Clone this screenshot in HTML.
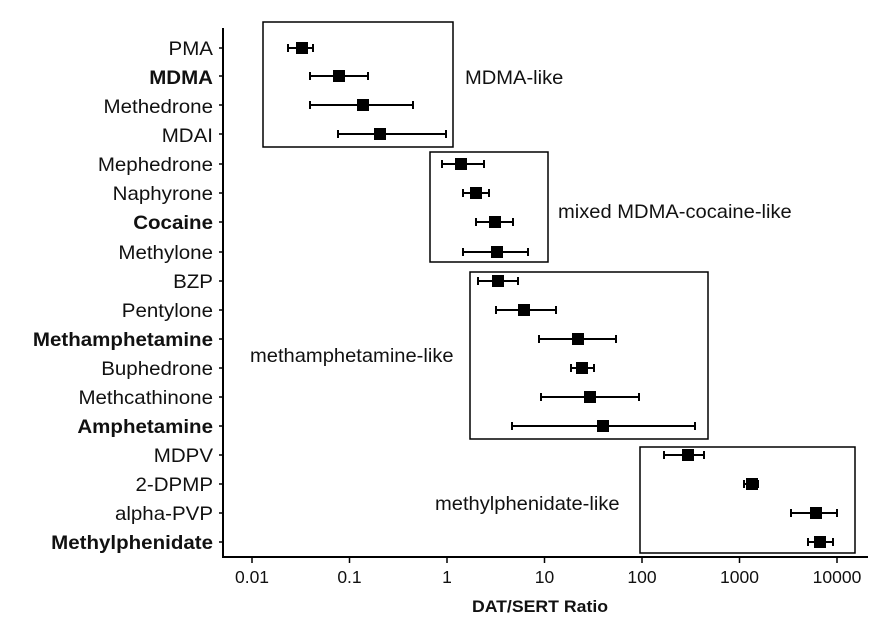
<!DOCTYPE html>
<html><head><meta charset="utf-8"><style>
html,body{margin:0;padding:0;background:#fff;}
svg{display:block;font-family:"Liberation Sans",Arial,sans-serif;}
.l{font-size:19px;fill:#111;}
.b{font-weight:bold;}
</style></head><body>
<svg width="890" height="630" viewBox="0 0 890 630" xmlns="http://www.w3.org/2000/svg">
<g stroke="#000" stroke-width="2" fill="none">
<line x1="223" y1="28" x2="223" y2="558"/>
<line x1="222" y1="557" x2="868" y2="557"/>
<rect x="263" y="22" width="190" height="125" stroke-width="1.5"/>
<rect x="430" y="152" width="118" height="110" stroke-width="1.5"/>
<rect x="470" y="272" width="238" height="167" stroke-width="1.5"/>
<rect x="640" y="447" width="215" height="106" stroke-width="1.5"/>
</g>
<g stroke="#000" stroke-width="1.5">
<line x1="252" y1="557" x2="252" y2="563"/><line x1="349.5" y1="557" x2="349.5" y2="563"/>
<line x1="447" y1="557" x2="447" y2="563"/><line x1="544.5" y1="557" x2="544.5" y2="563"/>
<line x1="642" y1="557" x2="642" y2="563"/><line x1="739.5" y1="557" x2="739.5" y2="563"/>
<line x1="837" y1="557" x2="837" y2="563"/>
</g>
<g font-size="17.5" fill="#111" text-anchor="middle">
<text x="252" y="583">0.01</text><text x="349.5" y="583">0.1</text><text x="447" y="583">1</text>
<text x="544.5" y="583">10</text><text x="642" y="583">100</text><text x="739.5" y="583">1000</text>
<text x="837" y="583">10000</text>
</g>
<text x="540" y="612" font-size="17" font-weight="bold" text-anchor="middle" fill="#111" transform="translate(540,0) scale(1.04,1) translate(-540,0)">DAT/SERT Ratio</text>
<g class="l">
<text transform="translate(465,84) scale(1.06,1)">MDMA-like</text>
<text transform="translate(558,218) scale(1.06,1)">mixed MDMA-cocaine-like</text>
<text transform="translate(250,362) scale(1.06,1)">methamphetamine-like</text>
<text transform="translate(435,510) scale(1.06,1)">methylphenidate-like</text>
</g>
<g class="l" text-anchor="end">
<text transform="translate(213,55) scale(1.08,1)">PMA</text>
<text class="b" transform="translate(213,84) scale(1.08,1)">MDMA</text>
<text transform="translate(213,113) scale(1.08,1)">Methedrone</text>
<text transform="translate(213,142) scale(1.08,1)">MDAI</text>
<text transform="translate(213,171) scale(1.08,1)">Mephedrone</text>
<text transform="translate(213,200) scale(1.08,1)">Naphyrone</text>
<text class="b" transform="translate(213,229) scale(1.08,1)">Cocaine</text>
<text transform="translate(213,259) scale(1.08,1)">Methylone</text>
<text transform="translate(213,288) scale(1.08,1)">BZP</text>
<text transform="translate(213,317) scale(1.08,1)">Pentylone</text>
<text class="b" transform="translate(213,346) scale(1.08,1)">Methamphetamine</text>
<text transform="translate(213,375) scale(1.08,1)">Buphedrone</text>
<text transform="translate(213,404) scale(1.08,1)">Methcathinone</text>
<text class="b" transform="translate(213,433) scale(1.08,1)">Amphetamine</text>
<text transform="translate(213,462) scale(1.08,1)">MDPV</text>
<text transform="translate(213,491) scale(1.08,1)">2-DPMP</text>
<text transform="translate(213,520) scale(1.08,1)">alpha-PVP</text>
<text class="b" transform="translate(213,549) scale(1.08,1)">Methylphenidate</text>
</g>
<g stroke="#000" stroke-width="2" fill="#000">
<path d="M288 48H313M288 44V52M313 44V52"/><rect x="297" y="43" width="10" height="10"/>
<path d="M310 76H368M310 72V80M368 72V80"/><rect x="334" y="71" width="10" height="10"/>
<path d="M310 105H413M310 101V109M413 101V109"/><rect x="358" y="100" width="10" height="10"/>
<path d="M338 134H446M338 130V138M446 130V138"/><rect x="375" y="129" width="10" height="10"/>
<path d="M442 164H484M442 160V168M484 160V168"/><rect x="456" y="159" width="10" height="10"/>
<path d="M463 193H489M463 189V197M489 189V197"/><rect x="471" y="188" width="10" height="10"/>
<path d="M476 222H513M476 218V226M513 218V226"/><rect x="490" y="217" width="10" height="10"/>
<path d="M463 252H528M463 248V256M528 248V256"/><rect x="492" y="247" width="10" height="10"/>
<path d="M478 281H518M478 277V285M518 277V285"/><rect x="493" y="276" width="10" height="10"/>
<path d="M496 310H556M496 306V314M556 306V314"/><rect x="519" y="305" width="10" height="10"/>
<path d="M539 339H616M539 335V343M616 335V343"/><rect x="573" y="334" width="10" height="10"/>
<path d="M571 368H594M571 364V372M594 364V372"/><rect x="577" y="363" width="10" height="10"/>
<path d="M541 397H639M541 393V401M639 393V401"/><rect x="585" y="392" width="10" height="10"/>
<path d="M512 426H695M512 422V430M695 422V430"/><rect x="598" y="421" width="10" height="10"/>
<path d="M664 455H704M664 451V459M704 451V459"/><rect x="683" y="450" width="10" height="10"/>
<path d="M744 484H758M744 480V488M758 480V488"/><rect x="747" y="479" width="10" height="10"/>
<path d="M791 513H837M791 509V517M837 509V517"/><rect x="811" y="508" width="10" height="10"/>
<path d="M808 542H833M808 538V546M833 538V546"/><rect x="815" y="537" width="10" height="10"/>
</g>
<g stroke="#000" stroke-width="1.5">
<path d="M219 48H223M219 76H223M219 105H223M219 134H223M219 164H223M219 193H223M219 222H223M219 252H223M219 281H223M219 310H223M219 339H223M219 368H223M219 397H223M219 426H223M219 455H223M219 484H223M219 513H223M219 542H223"/>
</g>
</svg>
</body></html>
